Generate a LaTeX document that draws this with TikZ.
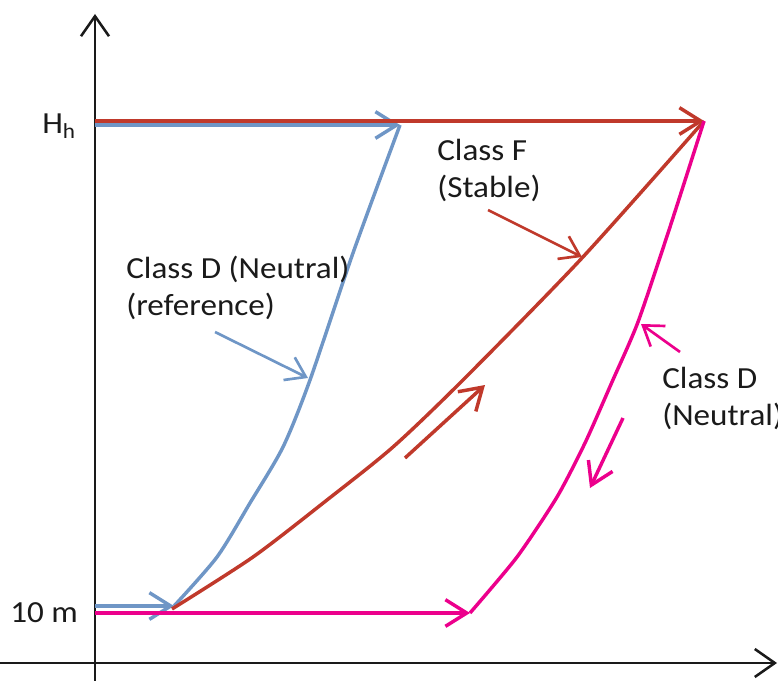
\documentclass[tikz,border=0pt]{standalone}
\usepackage{fontspec}
\setmainfont{Carlito}[FakeStretch=1.08]
\usepackage{tikz}
\usetikzlibrary{positioning,arrows.meta}
\definecolor{stableF}{HTML}{C0392B}
\definecolor{refD}{HTML}{6F96C6}
\definecolor{neutralD}{HTML}{EC008C}
\definecolor{ink}{HTML}{1A1A1A}

\begin{document}
\begin{tikzpicture}[
  x=0.75pt, y=-0.75pt,
  font=\fontsize{23}{27.5}\selectfont,
  axis/.style={-{Straight Barb[length=15pt,width=21pt]}, ink, line width=1.9pt},
  trace/.style={line width=2.6pt, line join=round},
  tipped/.style={-{Straight Barb[length=16pt,width=20pt]}},
  pointer/.style={-{Straight Barb[length=14pt,width=19pt]}, line width=2pt},
  note/.style={inner sep=0pt, text=ink, align=left}]
  \useasboundingbox (0,0) rectangle (778,681);
  % axes
  \coordinate (ybot) at (95,681);
  \coordinate (ytop) at (95,14);
  \coordinate (xl) at (0,663);
  \coordinate (xr) at (777,663);
  \draw[axis] (ybot) -- (ytop);
  \draw[axis] (xl) -- (xr);
  \node[note, anchor=base west] (hh) at (42,134) {H\textsubscript{h}};
  \node[note, anchor=base west] (tenm) at (10,622) {10 m};
  % ends of the runs
  \coordinate (apex) at (704,121);
  \coordinate (hh0) at (95,121);
  \coordinate (ref0) at (95,125);
  \coordinate (refT) at (400,125);
  \coordinate (low0) at (95,606);
  \coordinate (refB) at (174,606);
  \coordinate (stB) at (172,609);
  \coordinate (neu0) at (95,613);
  \coordinate (neuB) at (470,613);
  % class D, reference
  \draw[trace, refD, tipped] (low0) -- (refB);
  \draw[trace, refD, tipped] (ref0) -- (refT);
  \draw[trace, refD] plot[smooth, tension=0.45] coordinates {(refB) (217,557) (250,503) (283,447) (310,380) (353,253) (refT)};
  % class F
  \draw[trace, stableF, tipped] (hh0) -- (apex);
  \draw[trace, stableF] plot[smooth, tension=0.45] coordinates {(stB) (253,557) (327,500) (393,447) (463,380) (582,258) (apex)};
  % class D
  \draw[trace, neutralD, tipped] (neu0) -- (neuB);
  \draw[trace, neutralD] plot[smooth, tension=0.4] coordinates {(neuB) (517,557) (557,497) (585,443) (612,382) (638,322) (670,227) (apex)};
  % labels
  \node[note, anchor=north west] (refLbl) at (126,256) {Class D (Neutral)\\(reference)};
  \node[note, anchor=north west] (stLbl) at (437,139) {Class F\\(Stable)};
  \node[note, anchor=north west] (neuLbl) at (662,367) {Class D\\(Neutral)};
  \coordinate (refTail) at (215,332);
  \coordinate (refTip) at (308,378);
  \coordinate (stTail) at (488,210);
  \coordinate (stTip) at (582,257);
  \coordinate (neuTail) at (680,352);
  \coordinate (neuTip) at (641,324);
  \draw[pointer, refD] (refTail) -- (refTip);
  \draw[pointer, stableF] (stTail) -- (stTip);
  \draw[pointer, neutralD] (neuTail) -- (neuTip);
  % direction of travel
  \coordinate (upTail) at (405,458);
  \coordinate (upTip) at (485,385);
  \coordinate (dnTail) at (623,418);
  \coordinate (dnTip) at (590,488);
  \draw[trace, tipped, stableF] (upTail) -- (upTip);
  \draw[trace, tipped, neutralD] (dnTail) -- (dnTip);
\end{tikzpicture}
\end{document}
